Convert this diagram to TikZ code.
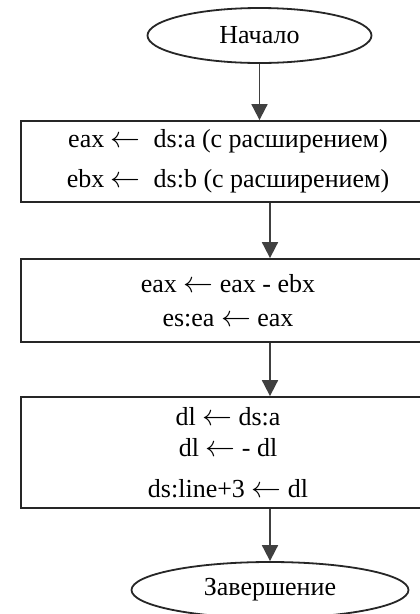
\documentclass[tikz,border=0pt]{standalone}
\usepackage{graphicx}
\usepackage{fontspec}
\setmainfont{Liberation Serif}
\usetikzlibrary{shapes.geometric,arrows.meta}
\newcommand\myarr{\scalebox{1.2}{$\leftarrow$}}
\tikzset{
  term/.style={ellipse, draw=black!85, line width=1.8pt, inner sep=0pt, font=\fontsize{26}{30}\selectfont},
  procbox/.style={rectangle, draw=black!85, line width=1.8pt, inner sep=0pt, minimum width=414pt, align=center, font=\fontsize{26}{30}\selectfont},
  flow/.style={draw=black!75, line width=1.8pt, -{Triangle[length=16pt,width=16pt]}}
}
\begin{document}
\begin{tikzpicture}[x=1pt,y=-1pt]
\useasboundingbox (0,0) rectangle (420,614);
\clip (0,0) rectangle (420,614);
\fill[white] (0,0) rectangle (420,614);
\node[term, minimum width=224pt, minimum height=55pt] (e1) at (259.5,35.5) {Начало};
\node[procbox, minimum height=81pt] (b1) at (228,161.5) {eax \myarr\ \ ds:a (с расширением)\\[10pt]ebx \myarr\ \ ds:b (с расширением)};
\node[procbox, minimum height=83pt] (b2) at (228,300.5) {eax \myarr\ eax - ebx\\[4pt]es:ea \myarr\ eax};
\node[procbox, minimum height=111pt] (b3) at (228,452.5) {dl \myarr\ ds:a\\[1pt]dl \myarr\ - dl\\[11pt]ds:line+3 \myarr\ dl};
\node[term, minimum width=277pt, minimum height=56pt] (e2) at (270,590) {Завершение};
\draw[flow] (e1.south) -- (e1.south |- b1.north);
\draw[flow] (b1.south -| e2.north) -- (b2.north -| e2.north);
\draw[flow] (b2.south -| e2.north) -- (b3.north -| e2.north);
\draw[flow] (b3.south -| e2.north) -- (e2.north);
\end{tikzpicture}
\end{document}
